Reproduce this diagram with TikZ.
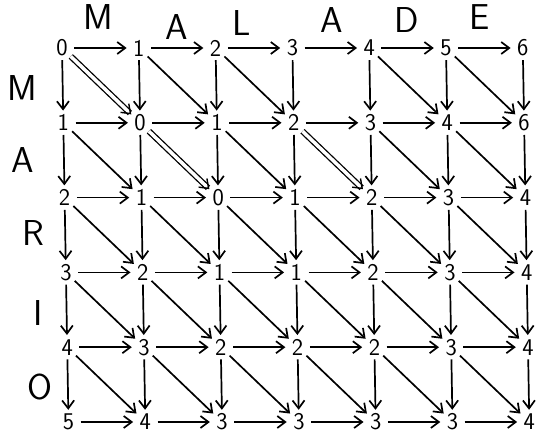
\documentclass[tikz,border=0pt]{standalone}
\usetikzlibrary{arrows.meta}
\begin{document}
\begin{tikzpicture}[x=1pt,y=-1pt,
  cell/.style={circle,inner sep=0pt,minimum size=24pt,font=\sffamily\fontsize{24}{26}\selectfont},
  lab/.style={inner sep=0pt,font=\sffamily\fontsize{36}{40}\selectfont},
  arr/.style={-{Straight Barb[length=8pt,width=12pt,line width=1.7pt]},line width=1.7pt},
  dbl/.style={-{Straight Barb[length=8pt,width=12pt,line width=1.4pt]},line width=1.3pt,double,double distance=3.5pt}]
\useasboundingbox (0,0) rectangle (543,438);
% cells
\foreach \r [count=\i from 0] in {{0,1,2,3,4,5,6},{1,0,1,2,3,4,6},{2,1,0,1,2,3,4},{3,2,1,1,2,3,4},{4,3,2,2,2,3,4},{5,4,3,3,3,3,4}}{
  \foreach \v [count=\j from 0] in \r {
    \node[cell] (n\i\j) at ({62+76.8*\j+1.3*\i},{48+74.8*\i}) {\v};
  }
}
% column labels
\node[lab] (cM) at (98,17) {M};
\node[lab] (cA1) at (177,27) {A};
\node[lab] (cL) at (242,23) {L};
\node[lab] (cA2) at (332,20) {A};
\node[lab] (cD) at (407,20) {D};
\node[lab] (cE) at (480,17) {E};
% row labels
\node[lab] (rM) at (22,88) {M};
\node[lab] (rA) at (23,160) {A};
\node[lab] (rR) at (33,233) {R};
\node[lab] (rI) at (38,313) {I};
\node[lab] (rO) at (40,387) {O};
% horizontal arrows
\foreach \i in {0,...,5}{
  \foreach \j [count=\k from 1] in {0,...,5}{
    \draw[arr] (n\i\j) -- (n\i\k);
  }
}
% vertical arrows
\foreach \i [count=\a from 1] in {0,...,4}{
  \foreach \j in {0,...,6}{
    \draw[arr] (n\i\j) -- (n\a\j);
  }
}
% diagonal arrows
\foreach \i [count=\a from 1] in {0,...,4}{
  \foreach \j [count=\b from 1] in {0,...,5}{
    \pgfmathtruncatemacro\c{10*\i+\j}
    \ifnum\c=3\relax\else
      \def\st{arr}%
      \ifnum\c=0 \def\st{dbl}\fi
      \ifnum\c=11 \def\st{dbl}\fi
      \ifnum\c=13 \def\st{dbl}\fi
      \draw[\st] (n\i\j) -- (n\a\b);
    \fi
  }
}
\end{tikzpicture}
\end{document}
